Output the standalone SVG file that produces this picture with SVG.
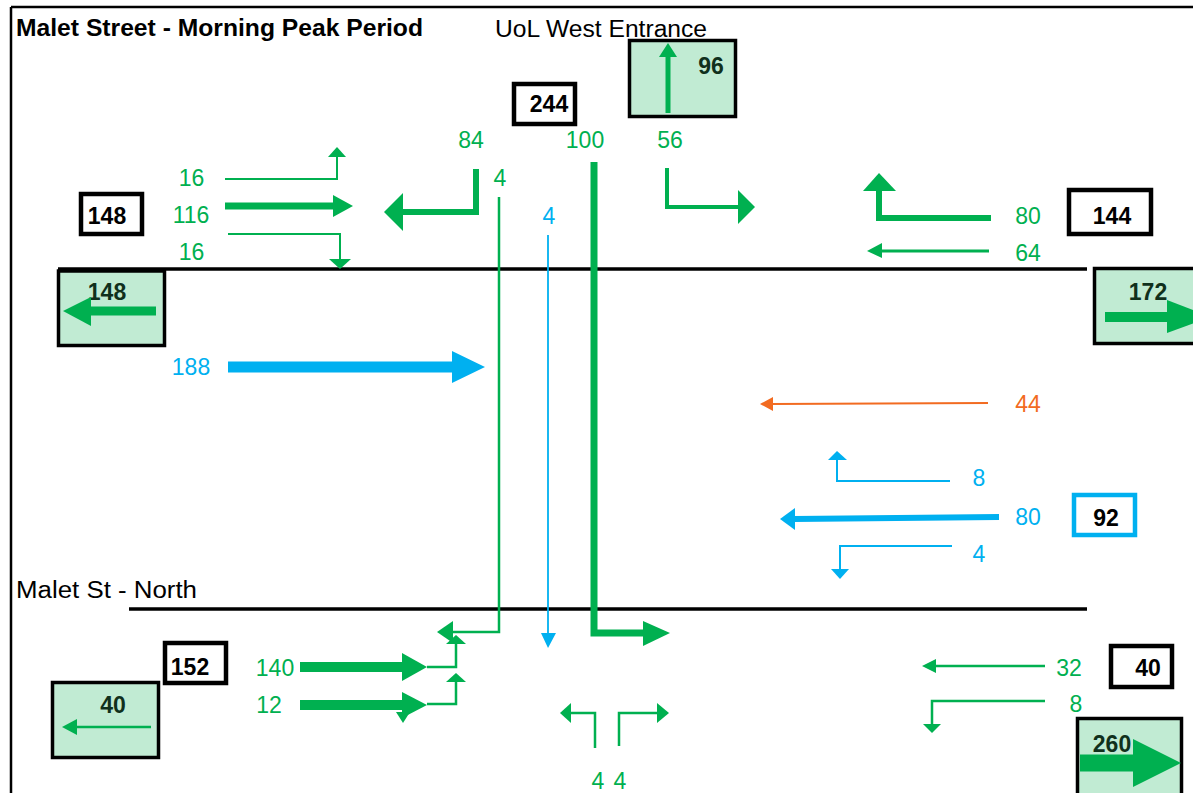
<svg xmlns="http://www.w3.org/2000/svg" width="1193" height="793" viewBox="0 0 1193 793">
<style>
text{font-family:"Liberation Sans",Arial,sans-serif;font-size:23px}
.b{font-weight:bold}
.m{text-anchor:middle}
.tg{fill:#00b050}
.tb{fill:#00b0f0}
.to{fill:#f26b21}
.tk{fill:#000}
.td{fill:#10301c;font-weight:bold}
.box{fill:#fff;stroke:#000;stroke-width:4.5}
.gbox{fill:#c1ebd3;stroke:#000;stroke-width:3.5}
.road{stroke:#000;stroke-width:3.5}
.g{stroke:#00b050;fill:none}
.bl{stroke:#00b0f0;fill:none}
.or{stroke:#f26b21;fill:none}
.hg{fill:#00b050}
.hb{fill:#00b0f0}
.ho{fill:#f26b21}
</style>
<rect width="1193" height="793" fill="#fff"/>
<g id="frame">
<line x1="11" y1="7" x2="1193" y2="7" stroke="#000" stroke-width="2.5"/>
<line x1="11" y1="7" x2="11" y2="793" stroke="#000" stroke-width="2.5"/>
</g>
<g id="title">
<text x="16" y="36" class="b tk" textLength="407" lengthAdjust="spacingAndGlyphs">Malet Street - Morning Peak Period</text>
<text x="495" y="37" class="tk" textLength="212" lengthAdjust="spacingAndGlyphs">UoL West Entrance</text>
<text x="16" y="598" class="tk" textLength="181" lengthAdjust="spacingAndGlyphs">Malet St - North</text>
</g>
<g id="roads">
<line class="road" x1="58" y1="269" x2="1087" y2="269"/>
<line class="road" x1="129" y1="609" x2="1087" y2="609"/>
</g>
<g id="node-244"><rect class="box" x="514" y="84" width="61" height="40"/><text x="549" y="112" class="b m tk">244</text></g>
<g id="node-96"><rect class="gbox" x="629.5" y="40.5" width="106" height="76"/><text x="711" y="74" class="td m">96</text></g>
<g id="node-148-in"><rect class="box" x="81" y="194" width="61" height="40"/><text x="107" y="224" class="b m tk">148</text></g>
<g id="node-148-out"><rect class="gbox" x="58.5" y="271" width="106" height="74.5"/><text x="107" y="300" class="td m">148</text></g>
<g id="node-144"><rect class="box" x="1069" y="190" width="82" height="44"/><text x="1112" y="224" class="b m tk">144</text></g>
<g id="node-172"><rect class="gbox" x="1094.5" y="268.5" width="110" height="75"/><text x="1148" y="300" class="td m">172</text></g>
<g id="node-92"><rect x="1074" y="495" width="61" height="40" fill="#fff" stroke="#00b0f0" stroke-width="4.5"/><text x="1106" y="526" class="b m tk">92</text></g>
<g id="node-152"><rect class="box" x="165" y="643" width="61" height="40"/><text x="190" y="675" class="b m tk">152</text></g>
<g id="node-40-out"><rect class="gbox" x="52.5" y="682.5" width="106" height="75"/><text x="113" y="713" class="td m">40</text></g>
<g id="node-40-in"><rect class="box" x="1111" y="646" width="61" height="41"/><text x="1148" y="676" class="b m tk">40</text></g>
<g id="node-260"><rect class="gbox" x="1077.5" y="718.5" width="104" height="90"/><text x="1112" y="752" class="td m">260</text></g>
<g id="labels">
<text x="471" y="148" class="m tg">84</text>
<text x="585" y="148" class="m tg">100</text>
<text x="670" y="148" class="m tg">56</text>
<text x="500" y="186" class="m tg">4</text>
<text x="549" y="224" class="m tb">4</text>
<text x="191.5" y="186" class="m tg">16</text>
<text x="191" y="223" class="m tg">116</text>
<text x="191.5" y="260" class="m tg">16</text>
<text x="191" y="375" class="m tb">188</text>
<text x="1028" y="224" class="m tg">80</text>
<text x="1028" y="261" class="m tg">64</text>
<text x="1028" y="412" class="m to">44</text>
<text x="979" y="486" class="m tb">8</text>
<text x="1028" y="525" class="m tb">80</text>
<text x="979" y="562" class="m tb">4</text>
<text x="275" y="676" class="m tg">140</text>
<text x="269" y="713" class="m tg">12</text>
<text x="598" y="789" class="m tg">4</text>
<text x="620" y="789" class="m tg">4</text>
<text x="1069" y="676" class="m tg">32</text>
<text x="1076" y="712" class="m tg">8</text>
</g>
<g id="connectors">
<polyline class="g" stroke-width="2" points="225,179 337,179 337,156"/>
<polygon class="hg" points="328,157 346,157 337,147"/>
<line class="g" stroke-width="7" x1="225" y1="206" x2="334" y2="206"/>
<polygon class="hg" points="333,195 333,217 353,206"/>
<polyline class="g" stroke-width="2" points="228,234 340,234 340,260"/>
<polygon class="hg" points="329,259 351,259 340,269"/>
<polyline class="g" stroke-width="6" points="476,169 476,212 402,212"/>
<polygon class="hg" points="403,193 403,231 384,212"/>
<polyline class="g" stroke-width="2.5" points="499,197 499,632 452,632"/>
<polygon class="hg" points="453,621 453,643 437,632"/>
<line class="bl" stroke-width="1.8" x1="548" y1="235" x2="548" y2="634"/>
<polygon class="hb" points="541,633 556,633 548,648"/>
<polyline class="g" stroke-width="7" points="594,162 594,633 644,633"/>
<polygon class="hg" points="643,621 643,646 670,633"/>
<polyline class="g" stroke-width="4" points="667,168 667,207 739,207"/>
<polygon class="hg" points="738,190 738,224 755,207"/>
<line class="g" stroke-width="5" x1="668" y1="113" x2="668" y2="56"/>
<polygon class="hg" points="659,57 677,57 668,43"/>
<polyline class="g" stroke-width="6" points="991,218 879,218 879,190"/>
<polygon class="hg" points="863,191 896,191 879,173"/>
<line class="g" stroke-width="3" x1="989" y1="251" x2="881" y2="251"/>
<polygon class="hg" points="882,243 882,258 867,251"/>
<line class="g" stroke-width="9" x1="156" y1="311" x2="90" y2="311"/>
<polygon class="hg" points="91,297 91,326 63,311"/>
<line class="bl" stroke-width="11" x1="228" y1="367" x2="453" y2="367"/>
<polygon class="hb" points="452,351 452,383 485,367"/>
<line class="g" stroke-width="10" x1="1105" y1="317" x2="1168" y2="317"/>
<polygon class="hg" points="1167,300 1167,333 1211,317"/>
<line class="or" stroke-width="2" x1="988" y1="403" x2="772" y2="404"/>
<polygon class="ho" points="773,397 773,411 760,404"/>
<polyline class="bl" stroke-width="2" points="950,481 837,481 837,459"/>
<polygon class="hb" points="828,460 847,460 837,451"/>
<line class="bl" stroke-width="6" x1="999" y1="517" x2="794" y2="519"/>
<polygon class="hb" points="795,508 795,530 780,519"/>
<polyline class="bl" stroke-width="2" points="952,546 840,546 840,570"/>
<polygon class="hb" points="831,569 849,569 840,579"/>
<line class="g" stroke-width="10" x1="300" y1="667" x2="403" y2="667"/>
<polygon class="hg" points="402,653 402,681 427,667"/>
<polyline class="g" stroke-width="2.5" points="427,667 456,667 456,643"/>
<polygon class="hg" points="446,644 466,644 456,635"/>
<line class="g" stroke-width="10" x1="300" y1="705" x2="403" y2="705"/>
<polygon class="hg" points="402,692 402,718 427,705"/>
<polyline class="g" stroke-width="2.5" points="427,704 456,704 456,681"/>
<polygon class="hg" points="446,682 466,682 456,673"/>
<polygon class="hg" points="396,712 410,712 403,723"/>
<polyline class="g" stroke-width="2.5" points="595,748 595,713 570,713"/>
<polygon class="hg" points="571,703 571,723 560,713"/>
<polyline class="g" stroke-width="2.5" points="619,746 619,713 658,713"/>
<polygon class="hg" points="657,703 657,723 669,713"/>
<line class="g" stroke-width="2.5" x1="151" y1="727" x2="76" y2="727"/>
<polygon class="hg" points="77,719 77,735 62,727"/>
<line class="g" stroke-width="2.5" x1="1045" y1="666" x2="935" y2="666"/>
<polygon class="hg" points="936,659 936,673 922,666"/>
<polyline class="g" stroke-width="2.5" points="1045,701 932,701 932,725"/>
<polygon class="hg" points="923,724 941,724 932,733"/>
<line class="g" stroke-width="17" x1="1080" y1="763" x2="1134" y2="763"/>
<polygon class="hg" points="1133,739 1133,787 1181,763"/>
</g>
</svg>
